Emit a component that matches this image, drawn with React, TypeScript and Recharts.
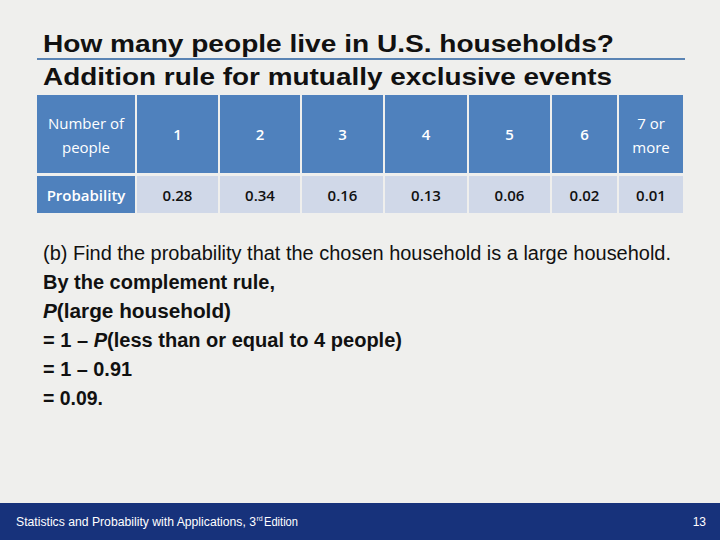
import React from 'react';
import { ComposedChart, Customized } from 'recharts';

const titleLines = [
  'How many people live in U.S. households?',
  'Addition rule for mutually exclusive events',
];
const headerLabel = ['Number of', 'people'];
const rowLabel = 'Probability';
const categories = ['1', '2', '3', '4', '5', '6', '7 or more'];
const probabilities = [0.28, 0.34, 0.16, 0.13, 0.06, 0.02, 0.01];
const bodyIntro = '(b) Find the probability that the chosen household is a large household.';
const bodyLine2 = 'By the complement rule,';
const resultLarge = 0.09;
const resultLessEq4 = 0.91;
const footerText = ['Statistics and Probability with Applications, 3', 'rd', 'Edition'];
const pageNumber = '13';

const data = categories.map((c, i) => ({ category: c, probability: probabilities[i] }));

const W = 720;
const H = 540;
const BG = '#EFEFED';
const BLUE = '#4F81BD';
const LIGHT = '#D0D8E8';
const NAVY = '#17327B';
const SANS = '"Liberation Sans", Arial, sans-serif';
const CAL = '"Open Sans", "Noto Sans", sans-serif';

const colX = [37, 137, 220, 302, 385, 469, 552, 619];
const colW = [98, 81, 80, 81, 82, 81, 65, 64];
const row1Y = 95, row1H = 78, row2Y = 176, row2H = 37;

const Slide = () => {
  const bodyBaselines = [260, 289, 318, 347, 376, 405];
  const bodyWidths = [628, 232, 188, 359, 89, 60];
  const bold = { fontWeight: 700 } as const;
  return (
    <g>
      <rect x={0} y={0} width={W} height={H} fill={BG} />
      {titleLines.map((t, i) => (
        <text key={t} x={43} y={[52, 85][i]} fontFamily={SANS} fontWeight={700} fontSize={24}
          fill="#111" textLength={[571, 569][i]} lengthAdjust="spacingAndGlyphs">{t}</text>
      ))}
      <line x1={37} x2={685} y1={59} y2={59} stroke="#5A84B4" strokeWidth={2} />

      {/* table */}
      <rect x={colX[0]} y={row1Y} width={colW[0]} height={row1H} fill={BLUE} />
      <text x={colX[0] + colW[0] / 2} y={129} textAnchor="middle" fontFamily={CAL} fontSize={15} fill="#fff">{headerLabel[0]}</text>
      <text x={colX[0] + colW[0] / 2} y={153} textAnchor="middle" fontFamily={CAL} fontSize={15} fill="#fff">{headerLabel[1]}</text>
      <rect x={colX[0]} y={row2Y} width={colW[0]} height={row2H} fill={BLUE} />
      <text x={colX[0] + colW[0] / 2} y={201} textAnchor="middle" fontFamily={CAL} fontSize={15} fontWeight={600} fill="#fff">{rowLabel}</text>
      {data.map((d, i) => {
        const x = colX[i + 1];
        const w = colW[i + 1];
        const cx = x + w / 2;
        const parts = d.category.split(' ');
        const multi = parts.length > 1;
        return (
          <g key={d.category}>
            <rect x={x} y={row1Y} width={w} height={row1H} fill={BLUE} />
            {multi ? (
              <>
                <text x={cx} y={129} textAnchor="middle" fontFamily={CAL} fontSize={15} fill="#fff">{parts.slice(0, 2).join(' ')}</text>
                <text x={cx} y={153} textAnchor="middle" fontFamily={CAL} fontSize={15} fill="#fff">{parts.slice(2).join(' ')}</text>
              </>
            ) : (
              <text x={cx} y={140} textAnchor="middle" fontFamily={CAL} fontSize={15} fontWeight={600} fill="#fff">{d.category}</text>
            )}
            <rect x={x} y={row2Y} width={w} height={row2H} fill={LIGHT} />
            <text x={cx} y={201} textAnchor="middle" fontFamily={CAL} fontSize={15} fontWeight={600} fill="#111">{d.probability.toFixed(2)}</text>
          </g>
        );
      })}

      {/* body */}
      <text x={43} y={bodyBaselines[0]} fontFamily={SANS} fontSize={20} fill="#111"
        textLength={bodyWidths[0]} lengthAdjust="spacingAndGlyphs">{bodyIntro}</text>
      <text x={43} y={bodyBaselines[1]} fontFamily={SANS} fontSize={20} fill="#111" {...bold}
        textLength={bodyWidths[1]} lengthAdjust="spacingAndGlyphs">{bodyLine2}</text>
      <text x={43} y={bodyBaselines[2]} fontFamily={SANS} fontSize={20} fill="#111" {...bold}
        textLength={bodyWidths[2]} lengthAdjust="spacingAndGlyphs">
        <tspan fontStyle="italic">P</tspan>(large household)
      </text>
      <text x={43} y={bodyBaselines[3]} fontFamily={SANS} fontSize={20} fill="#111" {...bold}
        textLength={bodyWidths[3]} lengthAdjust="spacingAndGlyphs">
        {'= 1 – '}<tspan fontStyle="italic">P</tspan>(less than or equal to 4 people)
      </text>
      <text x={43} y={bodyBaselines[4]} fontFamily={SANS} fontSize={20} fill="#111" {...bold}
        textLength={bodyWidths[4]} lengthAdjust="spacingAndGlyphs">{`= 1 – ${resultLessEq4.toFixed(2)}`}</text>
      <text x={43} y={bodyBaselines[5]} fontFamily={SANS} fontSize={20} fill="#111" {...bold}
        textLength={bodyWidths[5]} lengthAdjust="spacingAndGlyphs">{`= ${resultLarge.toFixed(2)}.`}</text>

      {/* footer */}
      <rect x={0} y={503} width={W} height={H - 503} fill={NAVY} />
      <text x={16} y={526} fontFamily={SANS} fontSize={12} fill="#fff"
        textLength={240} lengthAdjust="spacingAndGlyphs">{footerText[0]}</text>
      <text x={256.5} y={521} fontFamily={SANS} fontSize={7} fill="#fff">{footerText[1]}</text>
      <text x={264} y={526} fontFamily={SANS} fontSize={12} fill="#fff"
        textLength={34} lengthAdjust="spacingAndGlyphs">{footerText[2]}</text>
      <text x={706} y={526} textAnchor="end" fontFamily={SANS} fontSize={12} fill="#fff">{pageNumber}</text>
    </g>
  );
};

export default function App() {
  return (
    <div style={{ position: 'absolute', left: 0, top: 0, width: W, height: H, background: BG }}>
      <ComposedChart width={W} height={H} data={data} margin={{ top: 0, right: 0, bottom: 0, left: 0 }}>
        <Customized component={Slide} />
      </ComposedChart>
    </div>
  );
}
